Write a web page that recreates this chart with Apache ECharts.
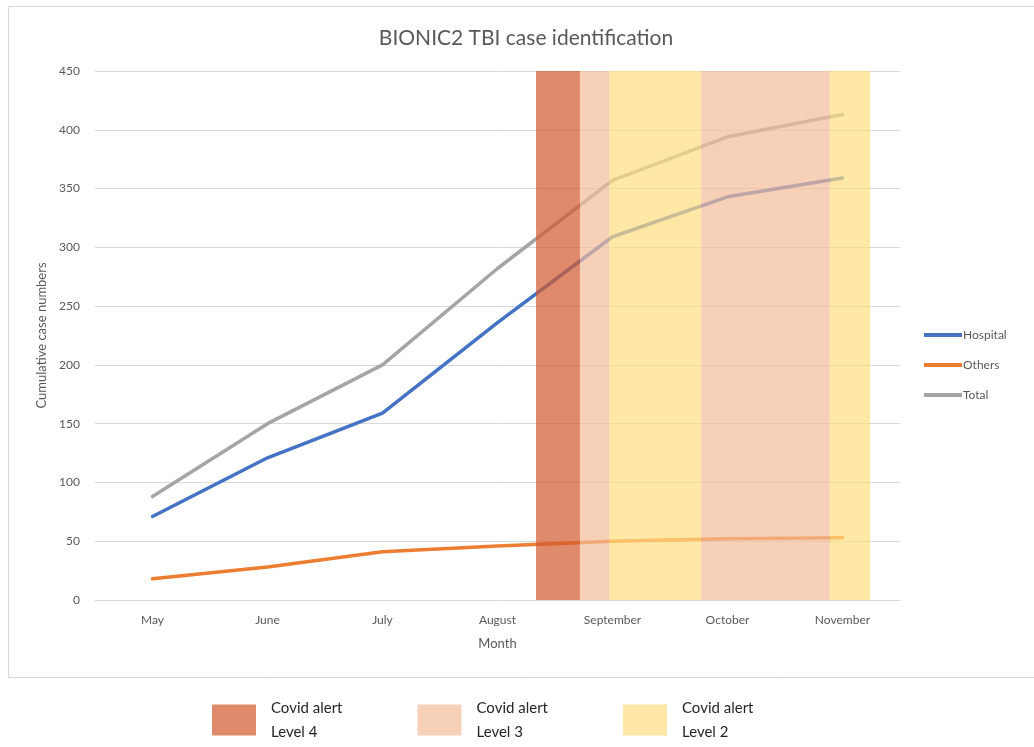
<!DOCTYPE html>
<html>
<head>
<meta charset="utf-8">
<script src="https://cdn.jsdelivr.net/npm/echarts@6/dist/echarts.min.js"></script>
<style>html,body{margin:0;padding:0;background:#fff}#c{width:1034px;height:747px}</style>
</head>
<body>
<div id="c"></div>
<script>
const months = ['May','June','July','August','September','October','November'];
const hospital = [71, 121, 159, 236, 309, 343, 359];
const others = [18, 28, 41, 46, 50, 52, 53];
const total = [88, 150, 200, 282, 357, 394, 413];
const yTicks = [0, 50, 100, 150, 200, 250, 300, 350, 400, 450];
// alert bands in month-index units: [start, end]
const level4 = [[3.335, 3.717]];
const level3 = [[3.717, 3.97], [4.77, 5.89]];
const level2 = [[3.97, 4.77], [5.89, 6.24]];

const font = 'Lato, "Open Sans", sans-serif';
const chart = echarts.init(document.getElementById('c'));

function bandSeries(name, data, color) {
  return {
    name: name, type: 'custom', xAxisIndex: 1, yAxisIndex: 0, z: 5,
    itemStyle: { color: color },
    data: data,
    renderItem: function (params, api) {
      const p1 = api.coord([api.value(0), yTicks[yTicks.length - 1]]);
      const p2 = api.coord([api.value(1), yTicks[0]]);
      return { type: 'rect', shape: { x: p1[0], y: p1[1], width: p2[0] - p1[0], height: p2[1] - p1[1] },
               style: { fill: api.visual('color') } };
    }
  };
}
function lineSeries(name, data, color) {
  return { name: name, type: 'line', data: data, showSymbol: false, symbol: 'none', z: 2,
    lineStyle: { color: color, width: 3.5, cap: 'round', join: 'round' }, itemStyle: { color: color } };
}

chart.setOption({
  animation: false,
  title: { text: 'BIONIC2 TBI case identification', left: 521, textAlign: 'center', top: 23,
    textStyle: { fontFamily: font, fontSize: 21, fontWeight: 'normal', color: '#595959' } },
  graphic: [{ type: 'rect', shape: { x: 8.5, y: 6.5, width: 1100, height: 671 },
    style: { fill: 'none', stroke: '#D9D9D9', lineWidth: 1 }, silent: true, z: -10 }],
  grid: { left: 95, right: 134, top: 71, bottom: 147 },
  legend: [{
    data: ['Hospital', 'Others', 'Total'], orient: 'vertical', left: 919, top: 324, padding: 5,
    itemWidth: 38, itemHeight: 4, itemGap: 18, icon: 'rect',
    textStyle: { fontFamily: font, fontSize: 12, color: '#595959', padding: [0, 0, 0, -4] }
  }, {
    data: ['Covid alert\nLevel 4', 'Covid alert\nLevel 3', 'Covid alert\nLevel 2'],
    orient: 'horizontal', left: 212, top: 696, padding: 0, itemWidth: 44, itemHeight: 31, itemGap: 75, icon: 'rect',
    textStyle: { fontFamily: font, fontSize: 15, color: '#262626', lineHeight: 24, padding: [0, 0, 0, 10] }
  }],
  xAxis: [{
    type: 'category', data: months, boundaryGap: true,
    name: 'Month', nameLocation: 'middle', nameGap: 37,
    nameTextStyle: { fontFamily: font, fontSize: 13, color: '#595959' },
    axisLine: { lineStyle: { color: '#D9D9D9' } }, axisTick: { show: false },
    axisLabel: { fontFamily: font, fontSize: 12, color: '#595959', margin: 14 }
  }, {
    type: 'value', min: -0.5, max: months.length - 0.5, show: false
  }],
  yAxis: {
    type: 'value', min: yTicks[0], max: yTicks[yTicks.length - 1], interval: 50,
    name: 'Cumulative case numbers', nameLocation: 'middle', nameGap: 47,
    nameTextStyle: { fontFamily: font, fontSize: 13, color: '#595959' },
    axisLine: { show: false }, axisTick: { show: false },
    axisLabel: { fontFamily: font, fontSize: 12, color: '#595959', margin: 15 },
    splitLine: { lineStyle: { color: '#D9D9D9' } }
  },
  series: [
    lineSeries('Hospital', hospital, '#4472C4'),
    lineSeries('Others', others, '#ED7D31'),
    lineSeries('Total', total, '#A5A5A5'),
    bandSeries('Covid alert\nLevel 4', level4, 'rgba(211,88,45,0.7)'),
    bandSeries('Covid alert\nLevel 3', level3, 'rgba(244,188,154,0.7)'),
    bandSeries('Covid alert\nLevel 2', level2, 'rgba(255,221,128,0.7)')
  ]
});
</script>
</body>
</html>
